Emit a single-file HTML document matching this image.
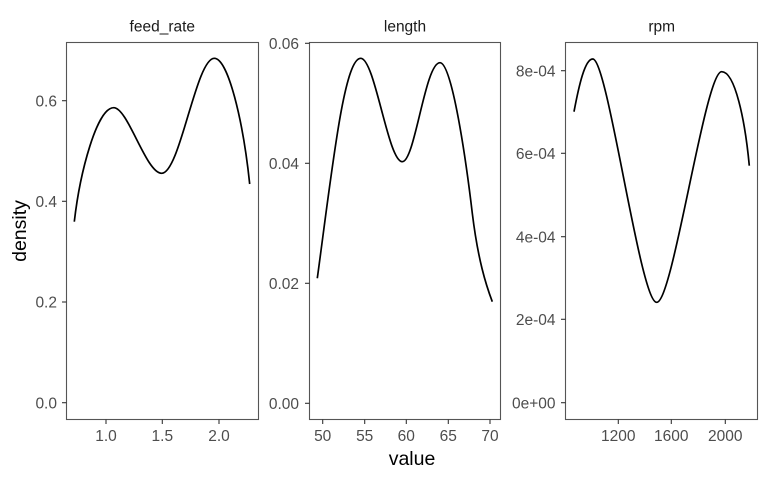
<!DOCTYPE html>
<html>
<head>
<meta charset="utf-8">
<style>
  html, body { margin: 0; padding: 0; background: #ffffff; }
  svg { display: block; }
  text { font-family: "Liberation Sans", Arial, sans-serif; }
</style>
</head>
<body>
<svg width="768" height="480" viewBox="0 0 768 480" xmlns="http://www.w3.org/2000/svg">
  <rect x="0" y="0" width="768" height="480" fill="#ffffff"/>

  <!-- Strip labels -->
  <g font-size="15.5" fill="#1A1A1A" text-anchor="middle">
    <text x="162.3" y="31.5">feed_rate</text>
    <text x="405" y="31.5">length</text>
    <text x="661.7" y="31.5">rpm</text>
  </g>

  <!-- Panel borders -->
  <g fill="none" stroke="#555555" stroke-width="1.1">
    <rect x="66.5" y="42.5" width="192" height="377"/>
    <rect x="309.5" y="42.5" width="191" height="377"/>
    <rect x="565.5" y="42.5" width="192" height="377"/>
  </g>

  <!-- Tick marks -->
  <g stroke="#333333" stroke-width="1.1">
    <!-- panel 1 y -->
    <line x1="62" y1="402.7" x2="66.5" y2="402.7"/>
    <line x1="62" y1="302" x2="66.5" y2="302"/>
    <line x1="62" y1="201.3" x2="66.5" y2="201.3"/>
    <line x1="62" y1="100.7" x2="66.5" y2="100.7"/>
    <!-- panel 2 y -->
    <line x1="305" y1="403.3" x2="309.5" y2="403.3"/>
    <line x1="305" y1="283.3" x2="309.5" y2="283.3"/>
    <line x1="305" y1="163.3" x2="309.5" y2="163.3"/>
    <line x1="305" y1="43.3" x2="309.5" y2="43.3"/>
    <!-- panel 3 y -->
    <line x1="561" y1="402.7" x2="565.5" y2="402.7"/>
    <line x1="561" y1="319.3" x2="565.5" y2="319.3"/>
    <line x1="561" y1="236.7" x2="565.5" y2="236.7"/>
    <line x1="561" y1="153.3" x2="565.5" y2="153.3"/>
    <line x1="561" y1="70.7" x2="565.5" y2="70.7"/>
    <!-- x ticks -->
    <line x1="106" y1="419.5" x2="106" y2="424"/>
    <line x1="162.3" y1="419.5" x2="162.3" y2="424"/>
    <line x1="219" y1="419.5" x2="219" y2="424"/>
    <line x1="322.7" y1="419.5" x2="322.7" y2="424"/>
    <line x1="364.7" y1="419.5" x2="364.7" y2="424"/>
    <line x1="406.3" y1="419.5" x2="406.3" y2="424"/>
    <line x1="448.3" y1="419.5" x2="448.3" y2="424"/>
    <line x1="490" y1="419.5" x2="490" y2="424"/>
    <line x1="618.3" y1="419.5" x2="618.3" y2="424"/>
    <line x1="671.3" y1="419.5" x2="671.3" y2="424"/>
    <line x1="725.3" y1="419.5" x2="725.3" y2="424"/>
  </g>

  <!-- Y tick labels -->
  <g font-size="15.5" fill="#4D4D4D" text-anchor="end">
    <text x="57" y="408.3">0.0</text>
    <text x="57" y="307.6">0.2</text>
    <text x="57" y="206.9">0.4</text>
    <text x="57" y="106.3">0.6</text>

    <text x="299" y="408.9">0.00</text>
    <text x="299" y="288.9">0.02</text>
    <text x="299" y="168.9">0.04</text>
    <text x="299" y="48.9">0.06</text>

    <text x="555.5" y="408.3">0e+00</text>
    <text x="555.5" y="324.9">2e-04</text>
    <text x="555.5" y="242.3">4e-04</text>
    <text x="555.5" y="158.9">6e-04</text>
    <text x="555.5" y="76.3">8e-04</text>
  </g>

  <!-- X tick labels -->
  <g font-size="15.5" fill="#4D4D4D" text-anchor="middle">
    <text x="106" y="441">1.0</text>
    <text x="162.3" y="441">1.5</text>
    <text x="219" y="441">2.0</text>

    <text x="322.7" y="441">50</text>
    <text x="364.7" y="441">55</text>
    <text x="406.3" y="441">60</text>
    <text x="448.3" y="441">65</text>
    <text x="490" y="441">70</text>

    <text x="618.3" y="441">1200</text>
    <text x="671.3" y="441">1600</text>
    <text x="725.3" y="441">2000</text>
  </g>

  <!-- Axis titles -->
  <text x="412" y="465" font-size="19.5" fill="#000000" text-anchor="middle">value</text>
  <text x="0" y="0" font-size="19.5" fill="#000000" text-anchor="middle" transform="translate(26,231) rotate(-90)">density</text>

  <!-- Density curves -->
  <g fill="none" stroke="#000000" stroke-width="1.7" stroke-linejoin="round" stroke-linecap="butt">
    <path d="M74.3,221.7 C80,172 97,107.7 113.7,107.7 C128,107.7 146,173.3 161.7,173.3 C180,173.3 196,58.3 214.3,58.3 C228,58.3 243,120 249.7,184"/>
    <path d="M317.3,278.3 C332,170 344,58.3 360.7,58.3 C375,58.3 388,161.7 402.3,161.7 C415,161.7 425,62.7 440,62.7 C452,62.7 466,160 472.3,213.3 C478,260 486,285 492.3,301.7"/>
    <path d="M574,111.7 C579,85 585,59 592.7,59 C608,59 640,302.3 656.7,302.3 C673,302.3 705,71.7 721.7,71.7 C735,71.7 745,120 749.3,165.7"/>
  </g>
</svg>
</body>
</html>
